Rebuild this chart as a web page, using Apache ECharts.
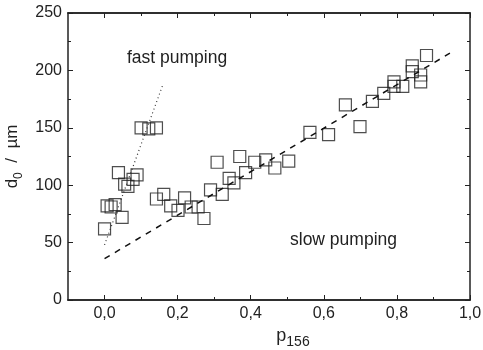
<!DOCTYPE html>
<html>
<head>
<meta charset="utf-8">
<script src="https://cdn.jsdelivr.net/npm/echarts@6/dist/echarts.min.js"></script>
<style>html,body{margin:0;padding:0;background:#fff}#c{width:483px;height:350px}</style>
</head>
<body>
<div id="c"></div>
<script>
// Data
var pX = [0.000,0.007,0.018,0.029,0.048,0.038,0.055,0.064,0.078,0.089,0.100,0.121,0.142,
          0.142,0.162,0.181,0.201,0.219,0.237,0.256,0.272,0.290,0.308,0.322,0.341,0.354,0.370,0.386,0.411,0.441,0.466,
          0.504,0.562,0.613,0.659,0.699,0.733,0.764,0.792,0.792,0.816,0.842,0.842,0.865,0.865,0.881];
var pY = [62,82,81,83,72,111,101,99,105,109,150,149,150,
          88,92,82,78,89,81,81,71,96,120,92,106,102,125,111,120,122,115,
          121,146,144,170,151,173,180,190,186,186,204,199,196,190,213];
var fastX = [0.0, 0.16];
var fastY = [48, 188];
var slowX = [0.0, 0.945];
var slowY = [36, 215];
var xMajor = [0.0,0.2,0.4,0.6,0.8,1.0];
var xMinor = [0.1,0.3,0.5,0.7,0.9];

function zip(a,b){return a.map(function(v,i){return [v,b[i]];});}

var font = 'Liberation Sans, Arial, sans-serif';
var ink = '#222';
var chart = echarts.init(document.getElementById('c'));
var grid = {left:68, right:13, top:13, bottom:50, containLabel:false, outerBoundsMode:'none'};
function xa(pos, ticks, len, labels){
  return {
    type:'value', position:pos, min:-0.1, max:1.0,
    axisLine:{show:true, onZero:false, lineStyle:{color:ink, width:1.5}},
    axisTick:{show:true, inside:true, length:len, customValues:ticks, lineStyle:{color:ink, width:1}},
    axisLabel:labels ? {show:true, customValues:xMajor, margin:6, color:ink, fontSize:16, fontFamily:font,
      formatter:function(v){return v.toFixed(1).replace('.',',');}} : {show:false},
    splitLine:{show:false}
  };
}
var xAxes = [xa('bottom', xMajor, 5, true), xa('bottom', xMinor, 3, false), xa('top', xMajor, 5, false), xa('top', xMinor, 3, false)];
xAxes[0].name = 'p{s|156}';
xAxes[0].nameLocation = 'middle';
xAxes[0].nameGap = 21;
xAxes[0].nameTextStyle = {color:ink, fontSize:18, fontFamily:font, padding:[0,0,0,48],
  rich:{s:{fontSize:14, fontFamily:font, color:ink, padding:[13,0,0,0]}}};

function ya(pos, labels){
  return {
    type:'value', position:pos, min:0, max:250, interval:50,
    axisLine:{show:true, onZero:false, lineStyle:{color:ink, width:1.5}},
    axisTick:{show:true, inside:true, length:5, lineStyle:{color:ink, width:1}},
    minorTick:{show:true, splitNumber:2, length:3, lineStyle:{color:ink, width:1}},
    axisLabel:labels ? {show:true, margin:6, color:ink, fontSize:16, fontFamily:font} : {show:false},
    splitLine:{show:false}, minorSplitLine:{show:false}
  };
}
var yAxes = [ya('left', true), ya('right', false)];
yAxes[0].name = 'd{s|0}  /  µm';
yAxes[0].nameLocation = 'middle';
yAxes[0].nameGap = 39;
yAxes[0].nameRotate = 90;
yAxes[0].nameTextStyle = {color:ink, fontSize:17, fontFamily:font, rich:{s:{fontSize:12, fontFamily:font, color:ink, padding:[12,0,0,0]}}};

chart.setOption({
  animation:false,
  backgroundColor:'#fff',
  grid:grid,
  xAxis:xAxes,
  yAxis:yAxes,
  graphic:[
    {type:'text', left:127, top:49, style:{text:'fast pumping', fontSize:17.5, fontFamily:font, fill:ink}},
    {type:'text', left:290, top:231, style:{text:'slow pumping', fontSize:17.5, fontFamily:font, fill:ink}}
  ],
  series:[
    {type:'line', xAxisIndex:0, yAxisIndex:0, data:zip(fastX, fastY), symbol:'none',
     lineStyle:{color:'#333', width:1.2, type:[1,3]}},
    {type:'line', xAxisIndex:0, yAxisIndex:0, data:zip(slowX, slowY), symbol:'none',
     lineStyle:{color:'#111', width:1.5, type:[6,6]}},
    {type:'scatter', xAxisIndex:0, yAxisIndex:0, data:zip(pX, pY), symbol:'rect', symbolSize:12,
     itemStyle:{color:'rgba(0,0,0,0)', borderColor:'#222', borderWidth:1.2}}
  ]
});
</script>
</body>
</html>
